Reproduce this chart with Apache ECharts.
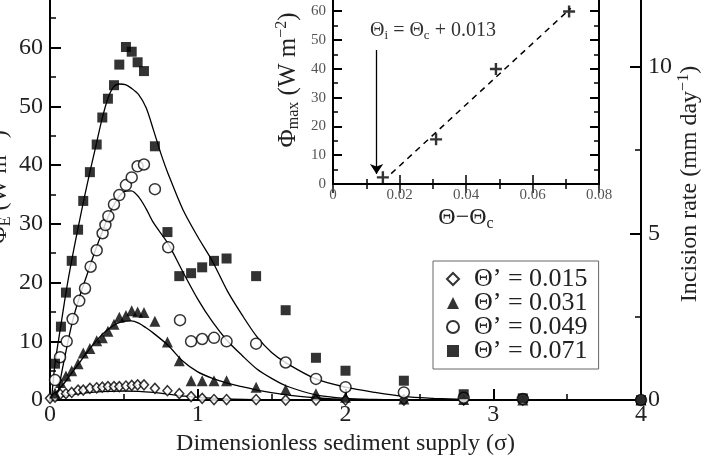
<!DOCTYPE html>
<html><head><meta charset="utf-8">
<script src="https://cdn.jsdelivr.net/npm/echarts@6/dist/echarts.min.js"></script>
<style>html,body{margin:0;padding:0;background:#fff}#c{width:709px;height:461px}</style>
</head><body><div id="c"></div>
<script>
// ---------- data ----------
const seriesNames = ['Θ’ = 0.015', 'Θ’ = 0.031', 'Θ’ = 0.049', 'Θ’ = 0.071'];

const sigma015 = [0,0.034,0.07,0.108,0.147,0.19,0.225,0.27,0.316,0.354,0.392,0.433,0.469,0.514,0.553,0.593,0.636,0.71,0.795,0.875,0.955,1.03,1.11,1.195,1.395,1.595,1.8,2.0,2.395,2.8,3.2,4.0];
const phi015   = [0.3,0.5,1.0,1.1,1.3,1.7,1.7,2.0,2.1,2.2,2.3,2.3,2.3,2.4,2.5,2.6,2.6,2.0,1.6,1.1,0.6,0.3,0.1,0.1,0.1,0,0,0,0,0,0,0];

const sigma031 = [0.034,0.072,0.108,0.147,0.19,0.225,0.27,0.316,0.354,0.392,0.433,0.469,0.514,0.553,0.593,0.636,0.71,0.795,0.875,0.955,1.03,1.11,1.195,1.395,1.595,1.8,2.0,2.395,2.8,3.2,4.0];
const phi031   = [1.2,3.0,4.1,5.0,6.2,8.0,8.8,10.1,10.6,11.7,12.9,14.1,14.4,15.2,15.0,14.9,13.4,9.9,6.7,3.3,3.3,3.3,3.3,2.2,1.8,1.1,0.5,0.2,0.1,0,0];

const sigma049 = [0.034,0.068,0.113,0.153,0.198,0.237,0.275,0.316,0.356,0.375,0.395,0.433,0.469,0.514,0.553,0.593,0.636,0.71,0.80,0.88,0.955,1.03,1.11,1.195,1.395,1.595,1.8,2.0,2.395,2.8,3.2,4.0];
const phi049   = [3.4,7.3,10.0,13.8,16.9,19.0,22.7,25.5,28.4,29.8,31.3,33.3,34.9,36.6,37.9,39.8,40.1,35.9,26.0,13.6,10.0,10.4,10.6,10.0,9.6,6.4,3.6,2.2,1.3,0.4,0.2,0];

const sigma071 = [0.034,0.074,0.108,0.147,0.19,0.225,0.27,0.316,0.354,0.392,0.433,0.469,0.514,0.553,0.593,0.636,0.71,0.795,0.875,0.955,1.03,1.11,1.195,1.395,1.595,1.8,2.0,2.395,2.8,3.2,4.0];
const phi071   = [6.2,12.5,18.3,23.7,29.0,33.9,38.8,43.5,48.1,51.3,53.6,57.1,60.1,59.3,57.5,56.0,43.2,28.6,21.1,21.6,22.6,23.7,24.1,21.1,15.3,7.2,5.0,3.3,1.0,0.3,0];

// model curves
const curveSigma015 = [0,0.1,0.2,0.3,0.4,0.5,0.6,0.7,0.8,0.9,1.0,1.2,1.4,1.6,4.0];
const curvePhi015   = [0,0.7,1.1,1.35,1.5,1.55,1.5,1.3,1.0,0.7,0.45,0.2,0.08,0,0];
const curveSigma031 = [0,0.05,0.1,0.15,0.2,0.25,0.3,0.35,0.4,0.45,0.5,0.55,0.6,0.65,0.7,0.8,0.9,1.0,1.1,1.2,1.3,1.4,1.6,1.8,2.0,2.4,4.0];
const curvePhi031   = [0,1.5,3.0,4.7,6.4,8.1,9.7,11.1,12.2,13.0,13.4,13.5,13.1,12.3,11.4,9.3,6.6,4.8,3.7,2.9,2.3,1.7,0.9,0.4,0.1,0,0];
const curveSigma049 = [0.045,0.07,0.1,0.15,0.2,0.25,0.3,0.35,0.4,0.45,0.5,0.55,0.6,0.65,0.7,0.8,0.9,1.0,1.1,1.2,1.3,1.4,1.5,1.6,1.8,2.0,2.2,2.4,4.0];
const curvePhi049   = [0,3.5,7.3,13.2,17.6,21.3,25,28.4,31.6,34,35.5,35.6,34.6,32.6,30.2,26.6,21.8,17.2,13.3,10.1,7.6,5.3,3.7,2.4,0.9,0.3,0.1,0,0];
const curveSigma071 = [0.01,0.034,0.074,0.11,0.15,0.19,0.23,0.27,0.31,0.35,0.39,0.43,0.47,0.51,0.55,0.6,0.65,0.7,0.75,0.8,0.9,1.0,1.1,1.2,1.3,1.4,1.5,1.6,1.8,2.0,2.2,2.4,2.6,2.8,3.0,4.0];
const curvePhi071   = [0,6.2,12.8,18.6,24.2,29.3,34.2,38.8,43.2,47.6,51.2,53.3,53.8,53.7,53.1,52.0,49.8,46.0,42.0,38.5,32.4,27.8,23.6,18.6,14.5,10.8,8.1,6.3,3.6,2.2,1.3,0.6,0.3,0.1,0,0];

// inset
const thetaExcess = [0.015, 0.031, 0.049, 0.071];
const phiMax      = [2.3, 15.5, 39.9, 59.9];
const fitX = [0.0175, 0.0715];
const fitY = [3.6, 61];
const arrowX = [0.0131, 0.0131];
const arrowY = [46.5, 3.5];

// ticks
const leftMajor = [0,10,20,30,40,50,60];
const leftMinor = [5,15,25,35,45,55,65];
const rightMajor = [0,5,10];
const rightMinor = [2.5,7.5];
const insetYMajor = [0,10,20,30,40,50,60];
const insetYMinor = [5,15,25,35,45,55];

// ---------- chart ----------
const F = 'Liberation Serif';
const zip = (a,b) => a.map((v,i)=>[v,b[i]]);
const chart = echarts.init(document.getElementById('c'), null, {renderer:'canvas'});
const axLine = {show:true, lineStyle:{color:'#000', width:2}};

function yAx(grid, pos, max, major, minor, showLine, labels, lblColor, lblSize, len) {
  return {
    type:'value', gridIndex:grid, position:pos, min:0, max:max,
    axisLine: showLine ? axLine : {show:false},
    axisTick: {show:true, inside:true, length:len, customValues: major, lineStyle:{color:'#000', width: minor ? 1.5 : 2}},
    axisLabel: labels ? {show:true, customValues: major, margin:7, color:lblColor, fontSize:lblSize, fontFamily:F} : {show:false},
    splitLine:{show:false}
  };
}

const rich = {
  sub:{fontSize:16, fontFamily:F, color:'#222', padding:[12,0,0,0]},
  sup:{fontSize:16, fontFamily:F, color:'#222', padding:[0,0,12,0]},
  subg:{fontSize:13, fontFamily:F, color:'#333', padding:[10,0,0,0]}
};

const option = {
  animation:false,
  backgroundColor:'#fff',
  grid:[
    {left:50, right:68, top:0, bottom:57.5},
    {left:333, right:110, top:-2, bottom:277}
  ],
  xAxis:[
    {type:'value', gridIndex:0, min:0, max:4, interval:1,
     axisLine:axLine,
     axisTick:{inside:true, length:11, lineStyle:{color:'#000', width:2}},
     minorTick:{show:true, splitNumber:2, length:6, lineStyle:{color:'#000', width:1.5}},
     axisLabel:{fontSize:24, color:'#222', fontFamily:F, margin:3},
     splitLine:{show:false},
     name:'Dimensionless sediment supply (σ)', nameLocation:'middle', nameGap:26,
     nameTextStyle:{fontSize:24, color:'#222', fontFamily:F}},
    {type:'value', gridIndex:1, position:'bottom', min:0, max:0.08, interval:0.02,
     axisLine:axLine,
     axisTick:{inside:true, length:9, lineStyle:{color:'#000', width:1.5}},
     minorTick:{show:true, splitNumber:2, length:5, lineStyle:{color:'#000', width:1.5}},
     axisLabel:{fontSize:15, color:'#555', fontFamily:F, margin:4},
     splitLine:{show:false},
     name:'Θ−Θ{sub|c}', nameLocation:'middle', nameGap:20,
     nameTextStyle:{fontSize:24, color:'#222', fontFamily:F, rich:rich}},
    {type:'value', gridIndex:1, position:'top', min:0, max:0.08, interval:0.02,
     axisLine:axLine,
     axisTick:{inside:true, length:9, lineStyle:{color:'#000', width:1.5}},
     minorTick:{show:true, splitNumber:2, length:5, lineStyle:{color:'#000', width:1.5}},
     axisLabel:{show:false}, splitLine:{show:false}}
  ],
  yAxis:[
    yAx(0,'left',68.1,leftMajor,false,true,true,'#222',24,11),
    yAx(0,'left',68.1,leftMinor,true,false,false,null,0,6),
    yAx(0,'right',12,rightMajor,false,true,true,'#222',24,11),
    yAx(0,'right',12,rightMinor,true,false,false,null,0,6),
    yAx(1,'left',63.87,insetYMajor,false,true,true,'#555',15,9),
    yAx(1,'left',63.87,insetYMinor,true,false,false,null,0,5),
    yAx(1,'right',63.87,insetYMajor,false,true,false,null,0,9),
    yAx(1,'right',63.87,insetYMinor,true,false,false,null,0,5)
  ],
  legend:{
    data:seriesNames, orient:'vertical', left:433, top:261,
    padding:[5,11,5,13], itemGap:-2, itemWidth:12, itemHeight:12,
    borderColor:'#666', borderWidth:1, backgroundColor:'#fff',
    textStyle:{fontSize:26, fontFamily:F, color:'#222', lineHeight:24, padding:[0,0,0,10]}
  },
  graphic:[
    {type:'text', x:0, y:187, rotation:Math.PI/2, z:100,
     style:{text:'Φ{sub|E} (W m{sup|−2})', rich:rich, fontSize:24, fontFamily:F, fill:'#222', align:'center', verticalAlign:'middle'}},
    {type:'text', x:690, y:184, rotation:Math.PI/2, z:100,
     style:{text:'Incision rate (mm day{sup|−1})', rich:rich, fontSize:24, fontFamily:F, fill:'#222', align:'center', verticalAlign:'middle'}},
    {type:'text', x:288, y:80, rotation:Math.PI/2, z:100,
     style:{text:'Φ{sub|max} (W m{sup|−2})', rich:rich, fontSize:25, fontFamily:F, fill:'#222', align:'center', verticalAlign:'middle'}},
    {type:'text', x:433, y:31, z:100,
     style:{text:'Θ{subg|i} = Θ{subg|c} + 0.013', rich:rich, fontSize:20, fontFamily:F, fill:'#333', align:'center', verticalAlign:'middle'}}
  ],
  series:[
    {type:'line', xAxisIndex:0, yAxisIndex:0, data:zip(curveSigma015,curvePhi015), smooth:0.3, showSymbol:false, lineStyle:{color:'#000', width:1.3}, z:2},
    {type:'line', xAxisIndex:0, yAxisIndex:0, data:zip(curveSigma031,curvePhi031), smooth:0.3, showSymbol:false, lineStyle:{color:'#000', width:1.3}, z:2},
    {type:'line', xAxisIndex:0, yAxisIndex:0, data:zip(curveSigma049,curvePhi049), smooth:0.3, showSymbol:false, lineStyle:{color:'#000', width:1.3}, z:2},
    {type:'line', xAxisIndex:0, yAxisIndex:0, data:zip(curveSigma071,curvePhi071), smooth:0.3, showSymbol:false, lineStyle:{color:'#000', width:1.3}, z:2},
    {name:seriesNames[0], type:'scatter', xAxisIndex:0, yAxisIndex:0, data:zip(sigma015,phi015), symbol:'diamond', symbolSize:[9,10],
     itemStyle:{color:'#fff', borderColor:'#000', borderWidth:1.5}, z:3},
    {name:seriesNames[1], type:'scatter', xAxisIndex:0, yAxisIndex:0, data:zip(sigma031,phi031), symbol:'triangle', symbolSize:11,
     itemStyle:{color:'#000'}, z:3},
    {name:seriesNames[2], type:'scatter', xAxisIndex:0, yAxisIndex:0, data:zip(sigma049,phi049), symbol:'circle', symbolSize:11,
     itemStyle:{color:'#fff', borderColor:'#000', borderWidth:1.5}, z:3},
    {name:seriesNames[3], type:'scatter', xAxisIndex:0, yAxisIndex:0, data:zip(sigma071,phi071), symbol:'rect', symbolSize:10,
     itemStyle:{color:'#000'}, z:3},
    // inset
    {type:'line', xAxisIndex:1, yAxisIndex:4, data:zip(fitX,fitY), showSymbol:false, lineStyle:{color:'#000', width:1.5, type:[6,5]},
     markLine:{silent:true, symbol:['none','arrow'], symbolSize:10, label:{show:false},
       lineStyle:{color:'#000', width:1.3, type:'solid'},
       data:[[{coord:[arrowX[0],arrowY[0]]},{coord:[arrowX[1],arrowY[1]]}]]}},
    {type:'scatter', xAxisIndex:1, yAxisIndex:4, data:zip(thetaExcess,phiMax),
     symbol:'path://M4,0H6V4H10V6H6V10H4V6H0V4H4Z', symbolSize:12, itemStyle:{color:'#000'}}
  ]
};
chart.setOption(option);
</script>
</body></html>
